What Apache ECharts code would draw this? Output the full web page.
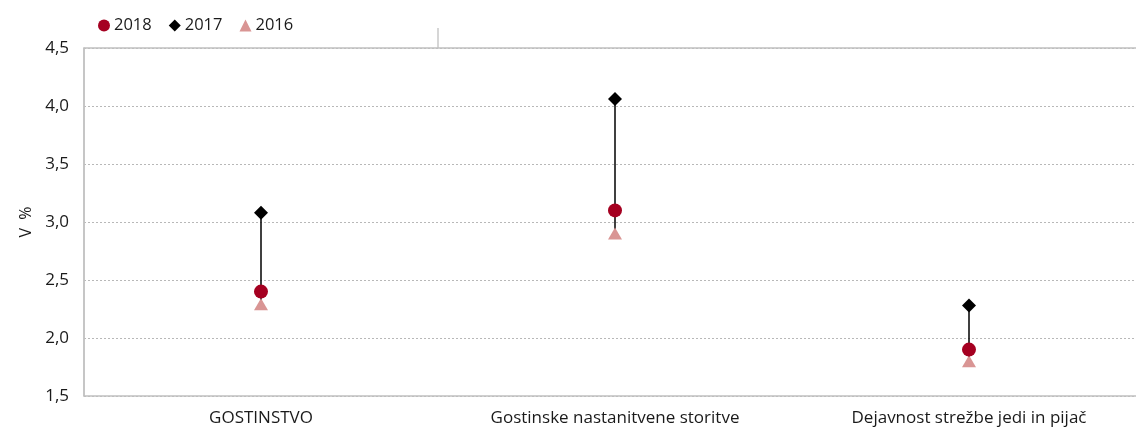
<!DOCTYPE html>
<html>
<head>
<meta charset="utf-8">
<script src="https://cdn.jsdelivr.net/npm/echarts@6/dist/echarts.min.js"></script>
<style>
  html, body { margin: 0; padding: 0; background: #fff; }
  #chart { width: 1136px; height: 430px; }
</style>
</head>
<body>
<div id="chart"></div>
<script>
var categories = ['GOSTINSTVO', 'Gostinske nastanitvene storitve', 'Dejavnost strežbe jedi in pijač'];
var y2018 = [2.40, 3.10, 1.90];
var y2017 = [3.08, 4.06, 2.28];
var y2016 = [2.29, 2.90, 1.80];

var fontFam = '"Open Sans", "Noto Sans", sans-serif';
var txt = '#1a1a1a';

// high-low lines from the lowest to the highest value of each category
var ranges = categories.map(function (c, i) {
  var vals = [y2018[i], y2017[i], y2016[i]];
  return [i, Math.min.apply(null, vals), Math.max.apply(null, vals)];
});

var myChart = echarts.init(document.getElementById('chart'));

myChart.setOption({
  animation: false,
  textStyle: { fontFamily: fontFam },
  legend: {
    left: 93,
    top: 12,
    itemWidth: 12,
    itemHeight: 12,
    itemGap: 17,
    textStyle: { fontSize: 16.5, color: txt, fontFamily: fontFam, padding: [0, 0, 0, -1] },
    data: [
      { name: '2018', icon: 'circle' },
      { name: '2017', icon: 'diamond' },
      { name: '2016', icon: 'triangle' }
    ]
  },
  grid: { left: 84, top: 48, width: 1062, height: 348, outerBoundsMode: 'none' },
  xAxis: [{
    type: 'category',
    data: categories,
    axisLine: { show: true, lineStyle: { color: '#c0c0c0', width: 1.5 } },
    axisTick: { show: false },
    axisLabel: { fontSize: 17, color: txt, margin: 14, fontFamily: fontFam },
    splitLine: {
      show: true,
      interval: function (index) { return index === 1; },
      lineStyle: { color: '#c8c8c8', width: 1.5 }
    }
  }, {
    type: 'category',
    position: 'top',
    data: categories,
    axisLine: { show: true, lineStyle: { color: '#c0c0c0', width: 1.5 } },
    axisTick: { show: false },
    axisLabel: { show: false }
  }],
  yAxis: {
    type: 'value',
    min: 1.5,
    max: 4.5,
    interval: 0.5,
    name: 'V  %',
    nameLocation: 'middle',
    nameGap: 44,
    nameRotate: 90,
    nameTextStyle: { fontSize: 16, color: txt, fontFamily: fontFam },
    axisLine: { show: true, lineStyle: { color: '#c0c0c0', width: 1.5 } },
    axisTick: { show: false },
    axisLabel: {
      fontSize: 17, color: txt, margin: 15, fontFamily: fontFam,
      formatter: function (v) { return v.toFixed(1).replace('.', ','); }
    },
    splitLine: { show: true, lineStyle: { color: '#b8b8b8', type: [2, 2], width: 1 } }
  },
  series: [{
    type: 'custom',
    name: 'range',
    data: ranges,
    z: 1,
    renderItem: function (params, api) {
      var lo = api.coord([api.value(0), api.value(1)]);
      var hi = api.coord([api.value(0), api.value(2)]);
      return {
        type: 'line',
        shape: { x1: lo[0], y1: lo[1], x2: hi[0], y2: hi[1] },
        style: { stroke: '#000', lineWidth: 1.5 }
      };
    }
  }, {
    type: 'scatter',
    name: '2016',
    data: y2016,
    symbol: 'triangle',
    symbolSize: [14, 12],
    itemStyle: { color: '#d99594', opacity: 1 },
    z: 2
  }, {
    type: 'scatter',
    name: '2018',
    data: y2018,
    symbol: 'circle',
    symbolSize: 14,
    itemStyle: { color: '#a50021', opacity: 1 },
    z: 3
  }, {
    type: 'scatter',
    name: '2017',
    data: y2017,
    symbol: 'diamond',
    symbolSize: 14,
    itemStyle: { color: '#000', opacity: 1 },
    z: 4
  }]
});

// extend the category separator a bit above the plot, as in the original
var sepX = (myChart.convertToPixel({ xAxisIndex: 0 }, 0) + myChart.convertToPixel({ xAxisIndex: 0 }, 1)) / 2;
var topY = myChart.convertToPixel({ yAxisIndex: 0 }, 4.5);
myChart.setOption({
  graphic: [{
    type: 'line',
    shape: { x1: sepX, y1: topY - 20, x2: sepX, y2: topY },
    style: { stroke: '#c8c8c8', lineWidth: 1.5 }
  }]
});
</script>
</body>
</html>
